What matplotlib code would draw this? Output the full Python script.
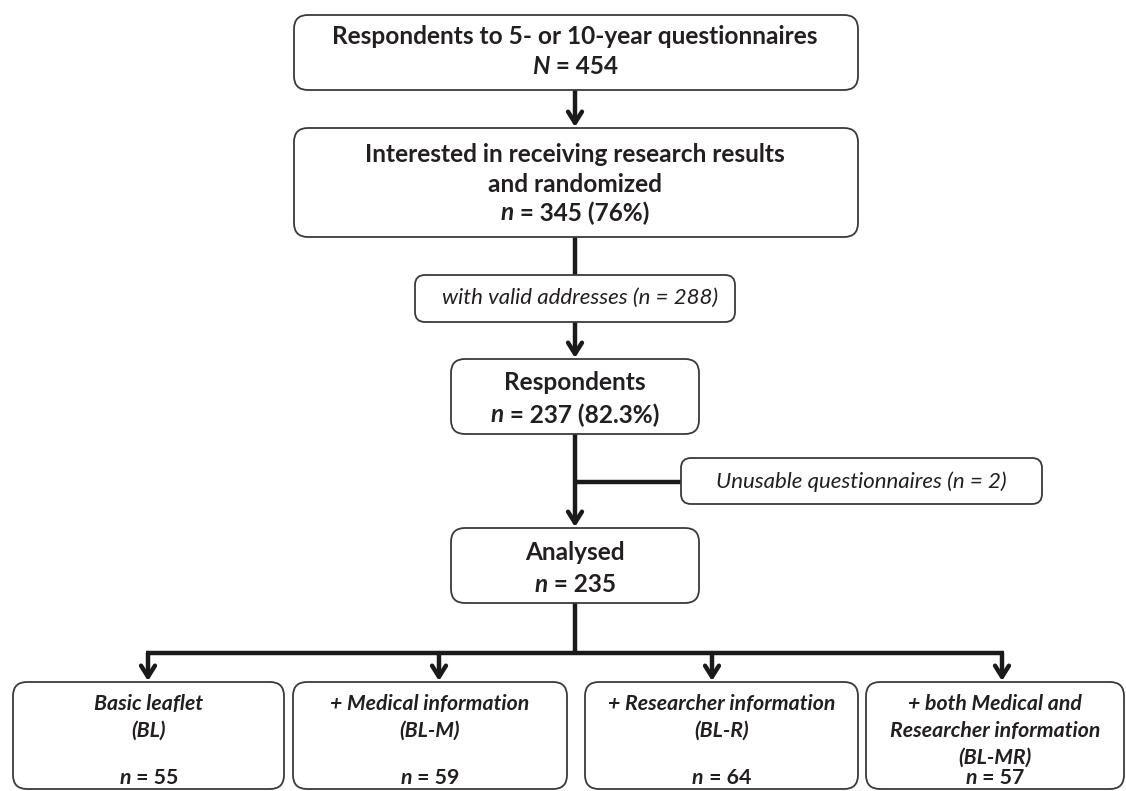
import matplotlib
matplotlib.use("Agg")
import matplotlib.pyplot as plt
from matplotlib.patches import FancyBboxPatch

plt.rcParams['font.family'] = ['Lato', 'DejaVu Sans']

# flow chart content
total_n = 454
randomized_n = 345
randomized_pct = "76%"
valid_n = 288
respondents_n = 237
respondents_pct = "82.3%"
unusable_n = 2
analysed_n = 235

group_titles = [
    ["Basic leaflet", "(BL)"],
    ["+ Medical information", "(BL-M)"],
    ["+ Researcher information", "(BL-R)"],
    ["+ both Medical and", "Researcher information", "(BL-MR)"],
]
group_n = [55, 59, 64, 57]

INK = "#231f20"
EDGE = "#3a3a3a"

fig = plt.figure(figsize=(11.26, 7.91), dpi=100)
ax = fig.add_axes([0, 0, 1, 1])
ax.set_xlim(0, 1126)
ax.set_ylim(791, 0)
ax.axis("off")
renderer = fig.canvas.get_renderer()


def box(x0, y0, x1, y1, r=14):
    p = FancyBboxPatch((x0, y0), x1 - x0, y1 - y0,
                       boxstyle=f"round,pad=0,rounding_size={r}",
                       fc="white", ec=EDGE, lw=1.3, zorder=2)
    ax.add_patch(p)


def line(x, y, size, parts):
    # parts: list of (text, style, weight); drawn side by side, centred on x
    objs = []
    for s, style, weight in parts:
        t = ax.text(0, y, s, fontsize=size, style=style, weight=weight,
                    color=INK, ha="left", va="center", zorder=3)
        objs.append(t)
    widths = [t.get_window_extent(renderer).width for t in objs]
    cur = x - sum(widths) / 2
    for t, w in zip(objs, widths):
        t.set_x(cur)
        cur += w


def n_line(x, y, size, label, rest, style="normal"):
    line(x, y, size, [(label, "italic", "bold"), (" = " + rest, style, "bold")])


def seg(xs, ys):
    ax.plot(xs, ys, color="#1a1a1a", lw=3.2, solid_capstyle="butt", zorder=1)


def arrow(x, y0, y1):
    ax.annotate("", xy=(x, y1), xytext=(x, y0),
                arrowprops=dict(arrowstyle="->,head_length=0.8,head_width=0.5",
                                color="#1a1a1a", lw=3.2, shrinkA=0, shrinkB=0),
                zorder=1)


cx = 575
BIG = 17.6
SIDE = 16
ARM = 15.3

# top box
box(294, 15, 858, 90)
line(cx, 37, BIG, [("Respondents to 5- or 10-year questionnaires", "normal", "bold")])
n_line(cx, 67, BIG, "N", str(total_n))
arrow(cx, 90, 127)

# randomized
box(294, 128, 858, 237)
line(cx, 155, BIG, [("Interested in receiving research results", "normal", "bold")])
line(cx, 184, BIG, [("and randomized", "normal", "bold")])
n_line(cx, 213, BIG, "n", f"{randomized_n} ({randomized_pct})")
seg([cx, cx], [237, 275])

# valid addresses
box(415, 275, 735, 322, r=10)
line(580, 298, SIDE, [(f"with valid addresses (n = {valid_n})", "italic", "normal")])
arrow(cx, 322, 358)

# respondents
box(451, 359, 699, 434)
line(cx, 383, BIG, [("Respondents", "normal", "bold")])
n_line(cx, 415, BIG, "n", f"{respondents_n} ({respondents_pct})")

# exclusion
arrow(cx, 434, 527)
seg([cx, 681], [482, 482])
box(681, 458, 1042, 504, r=10)
line(861, 482, SIDE, [(f"Unusable questionnaires (n = {unusable_n})", "italic", "normal")])

# analysed
box(451, 528, 699, 603)
line(cx, 552, BIG, [("Analysed", "normal", "bold")])
n_line(cx, 584, BIG, "n", str(analysed_n))
seg([cx, cx], [603, 653])

# randomisation arms
arm_x = [148, 439, 712, 1002]
arm_box = [(13, 284), (293, 567), (585, 858), (866, 1124)]
seg([arm_x[0] - 1.6, arm_x[-1] + 1.6], [653, 653])
for ax_x, (x0, x1), title, n in zip(arm_x, arm_box, group_titles, group_n):
    arrow(ax_x, 653, 681)
    box(x0, 682, x1, 789)
    mid = (x0 + x1) / 2
    for i, s in enumerate(title):
        line(mid, 704 + 27 * i, ARM, [(s, "italic", "bold")])
    n_line(mid, 778, ARM, "n", str(n), style="normal")

fig.savefig("out.png", dpi=100)
